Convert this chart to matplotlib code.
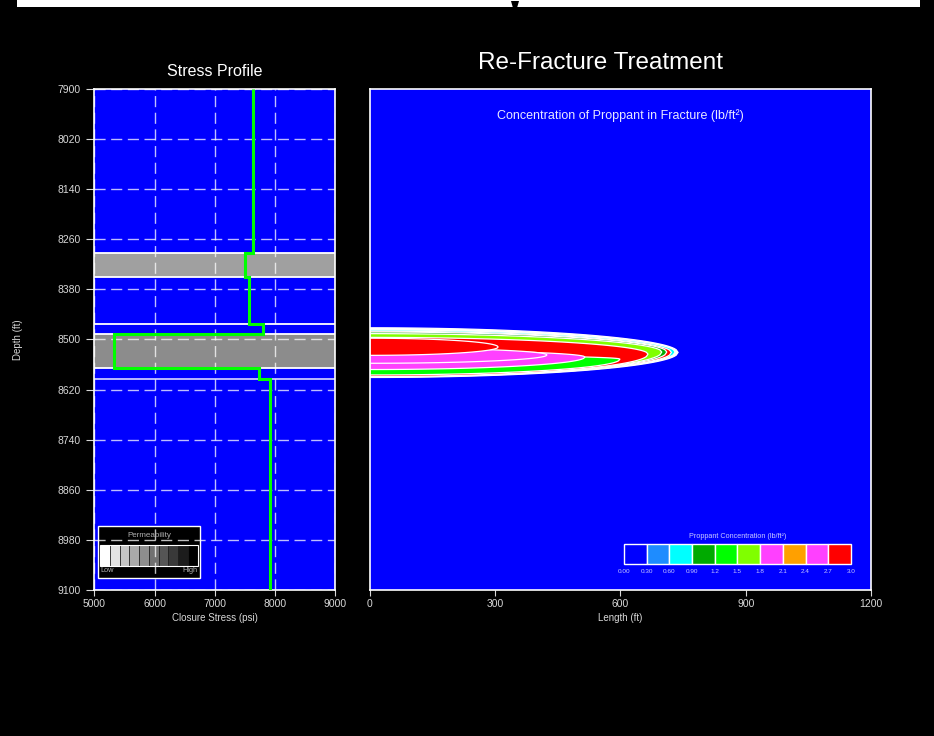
import numpy as np
import matplotlib
matplotlib.use("Agg")
import matplotlib.pyplot as plt
from matplotlib.patches import Rectangle, Polygon

plt.rcParams["font.family"] = ["Liberation Sans", "DejaVu Sans"]

# stress profile: layer boundaries (ft) and closure stress in each interval (psi)
stress_depth_edges = [7900, 8293, 8351, 8463, 8488, 8569, 8595, 9100]
stress_psi = [7640, 7500, 7570, 7800, 5320, 7740, 7920]

# permeable layers shaded in the stress track
perm_top = [8293, 8488]
perm_bottom = [8351, 8569]
perm_shade = ["#a0a0a0", "#8c8c8c"]
layer_lines = [8293, 8351, 8463, 8488, 8569]
weak_line = 8595

depth_ticks = [7900, 8020, 8140, 8260, 8380, 8500, 8620, 8740, 8860, 8980, 9100]
stress_ticks = [5000, 6000, 7000, 8000, 9000]
length_ticks = [0, 300, 600, 900, 1200]

# proppant concentration scale
conc_levels = ["0.00", "0.30", "0.60", "0.90", "1.2", "1.5", "1.8", "2.1", "2.4", "2.7", "3.0"]
conc_colors = ["#0000ff", "#1e8cff", "#00ffff", "#00aa00", "#00ff00",
               "#80ff00", "#ff40ff", "#ffa000", "#ff40ff", "#ff0000"]

# fracture concentration contours, outermost first:
# half-length (ft), top / bottom depth at the wellbore, depth at the tip
cont_color = ["#ffffff", "#00ffff", "#ff0000", "#00aa00", "#80ff00",
              "#ff0000", "#00ff00", "#ff40ff", "#ff40ff", "#ff0000"]
cont_length = [738, 731, 722, 711, 699, 666, 599, 515, 424, 307]
cont_top = [8472, 8477, 8480, 8482, 8486, 8495, 8537, 8525, 8520, 8497]
cont_bottom = [8591, 8590, 8589, 8589, 8589, 8589, 8585, 8572, 8557, 8538]
cont_tip = [8531, 8530, 8531, 8530, 8530, 8535, 8547, 8542, 8537, 8518]

BLUE = "#0000ff"
TXT = "#d8d8d8"

fig = plt.figure(figsize=(9.34, 7.36), dpi=100, facecolor="black")
ax_s = fig.add_axes([0.101, 0.1984, 0.2577, 0.6807])
ax_f = fig.add_axes([0.3961, 0.1984, 0.5364, 0.6807])

for ax in (ax_s, ax_f):
    ax.set_facecolor(BLUE)
    for sp in ax.spines.values():
        sp.set_color("white")
        sp.set_linewidth(1.2)
    ax.tick_params(colors=TXT, labelsize=7.5, length=4, width=0.8, pad=2.5)
    ax.set_ylim(9100, 7900)

# --- stress profile track ---
ax_s.set_xlim(5000, 9000)
ax_s.set_xticks(stress_ticks)
ax_s.set_yticks(depth_ticks)
ax_s.tick_params(axis="y", length=6, pad=4)
ax_s.grid(True, color="white", alpha=0.75, linestyle=(0, (8, 4)), linewidth=1)

for top, bot, shade in zip(perm_top, perm_bottom, perm_shade):
    ax_s.axhspan(top, bot, color=shade, zorder=1, linewidth=0)
for d in layer_lines:
    ax_s.axhline(d, color="white", linewidth=1.3, zorder=1.2)
ax_s.axhline(weak_line, color="#c8c8ff", linewidth=1.3, zorder=1.2)

ax_s.stairs(stress_psi, stress_depth_edges, orientation="horizontal",
            baseline=None, color="#00ff00", linewidth=2.2, zorder=3)

ax_s.set_title("Stress Profile", color="white", fontsize=11.5, pad=9)
ax_s.set_xlabel("Closure Stress (psi)", color=TXT, fontsize=7, labelpad=3)
fig.text(18 / 934, 1 - 340 / 736, "Depth (ft)", color=TXT, fontsize=7,
         rotation=90, ha="center", va="center")

# permeability key
key = ax_s.transAxes
ax_s.add_patch(Rectangle((0.016, 0.024), 0.423, 0.104, transform=key,
                         facecolor="black", edgecolor="white", linewidth=1, zorder=1))
ax_s.text(0.228, 0.108, "Permeability", transform=key, color="#b0b0b0",
          fontsize=5.8, ha="center", va="center", zorder=4)
grays = np.linspace(1.0, 0.0, 10)
cell_w = 0.405 / 10
for i, g in enumerate(grays):
    ax_s.add_patch(Rectangle((0.024 + i * cell_w, 0.048), cell_w, 0.042,
                             transform=key, facecolor=str(g), edgecolor="#202020",
                             linewidth=0.5, zorder=1))
ax_s.add_patch(Rectangle((0.024, 0.048), 0.405, 0.042, transform=key, fill=False,
                         edgecolor="white", linewidth=0.8, zorder=1))
ax_s.text(0.026, 0.038, "Low", transform=key, color="#b0b0b0", fontsize=5.3,
          ha="left", va="center", zorder=4)
ax_s.text(0.43, 0.038, "High", transform=key, color="#b0b0b0", fontsize=5.3,
          ha="right", va="center", zorder=4)

# --- fracture concentration panel ---
ax_f.set_xlim(0, 1200)
ax_f.set_xticks(length_ticks)
ax_f.set_yticks([])
ax_f.tick_params(axis="y", length=0)
ax_f.set_xlabel("Length (ft)", color=TXT, fontsize=7, labelpad=3)

for c, L, top, bot, tip in zip(cont_color, cont_length, cont_top, cont_bottom, cont_tip):
    x = np.linspace(0, L, 160)
    shape = np.sqrt(np.clip(1 - (x / L) ** 2, 0, 1))
    upper = tip + (top - tip) * shape
    lower = tip + (bot - tip) * shape
    verts = np.column_stack([np.r_[x, x[::-1]], np.r_[upper, lower[::-1]]])
    ax_f.add_patch(Polygon(verts, closed=True, facecolor=c, edgecolor="white",
                           linewidth=0.9, zorder=2))

ax_f.text(0.5, 0.946, "Concentration of Proppant in Fracture (lb/ft\u00b2)",
          transform=ax_f.transAxes, color="#e8e8ff", fontsize=9, ha="center", va="center")

# concentration colour key
kx0, kw, ky0, kh = 0.5070, 0.4531, 0.0509, 0.0399
ax_f.text(kx0 + kw / 2, 0.1058, "Proppant Concentration (lb/ft\u00b2)",
          transform=ax_f.transAxes, color="#c8c8ff", fontsize=5.2, ha="center", va="center")
step = kw / len(conc_colors)
for i, c in enumerate(conc_colors):
    ax_f.add_patch(Rectangle((kx0 + i * step, ky0), step, kh, transform=ax_f.transAxes,
                             facecolor=c, edgecolor="white", linewidth=1, zorder=3))
for i, lab in enumerate(conc_levels):
    ax_f.text(kx0 + i * step, ky0 - 0.009, lab, transform=ax_f.transAxes,
              color="#c8c8ff", fontsize=4.6, ha="center", va="top")

fig.text(600 / 934, 1 - 63 / 736, "Re-Fracture Treatment", color="white",
         fontsize=17.5, ha="center", va="center")

# white strip across the top edge
fig.patches.append(Rectangle((17 / 934, 1 - 7 / 736), 903 / 934, 7 / 736,
                             transform=fig.transFigure, facecolor="white", edgecolor="none"))
fig.patches.append(Polygon([(511 / 934, 1 - 1 / 736), (519 / 934, 1 - 1 / 736),
                            (515 / 934, 1 - 15 / 736)], closed=True,
                           transform=fig.transFigure, facecolor="black", edgecolor="none"))

fig.savefig("out.png", dpi=100, facecolor="black")
